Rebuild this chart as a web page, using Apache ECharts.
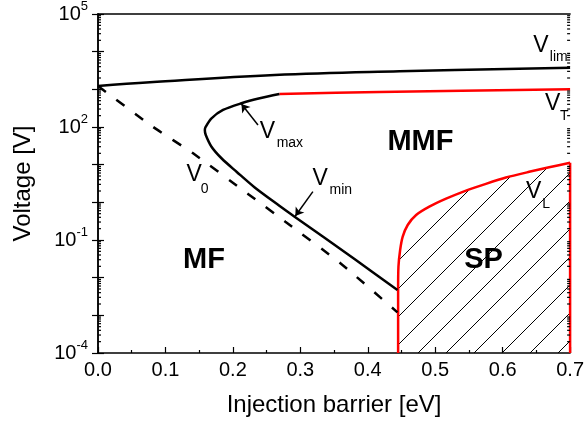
<!DOCTYPE html>
<html><head><meta charset="utf-8">
<script src="https://cdn.jsdelivr.net/npm/echarts@6/dist/echarts.min.js"></script>
<style>html,body{margin:0;padding:0;background:#fff}#c{width:587px;height:425px}</style>
</head><body><div id="c"></div>
<script>
// ---- axis ticks ----
const xTickLabels = ['0.0','0.1','0.2','0.3','0.4','0.5','0.6','0.7'];
const yLabelExps = [-4, -1, 2, 5];
const yMinorTicks = [];
for (let e = -4; e < 5; e++) for (let k = 2; k <= 9; k++) yMinorTicks.push(k * Math.pow(10, e));

// ---- data ----
const vLimX = [0, 0.077, 0.262, 0.447, 0.7];
const vLimY = [1227, 1538, 2404, 3013, 3750];

const vTX = [0.269, 0.417, 0.7];
const vTY = [750, 849, 1000];

const vCurveX = [0.269, 0.2398, 0.2127, 0.1854, 0.1683, 0.1598, 0.1584, 0.1598, 0.1683, 0.1831, 0.2058, 0.2324, 0.2694, 0.2915, 0.3803, 0.444];
const vCurveY = [750, 578, 426, 283, 170, 102, 83.4, 61.4, 30.0, 14.8, 6.40, 2.48, 0.80, 0.416, 0.0313, 0.0047];

const v0X = [0, 0.0818, 0.141, 0.2224, 0.2778, 0.3607, 0.444];
const v0Y = [1227, 100, 20.0, 1.67, 0.306, 0.0231, 0.0012];

// V_L boundary (left vertical + curve), and the right vertical edge of the SP region
const vLX = [0.445, 0.445, 0.4455, 0.448, 0.4518, 0.4592, 0.4717, 0.4913, 0.5161, 0.5457, 0.5752, 0.6048, 0.6393, 0.6689, 0.7];
const vLY = [1e-4, 0.0047, 0.0196, 0.0543, 0.1225, 0.2506, 0.461, 0.766, 1.25, 2.05, 3.10, 4.55, 6.45, 8.51, 11.3];
const spRightX = [0.7, 0.7];
const spRightY = [11.3, 1e-4];

// arrows [fromX, fromY, toX, toY]
const arrowVmax = [0.2372, 113, 0.2127, 408];
const arrowVmin = [0.3186, 1.92, 0.2926, 0.434];

// annotations: text, x, baseline y (data coords), kind
const labelText = ['V','lim','V','T','V','max','V','0','V','min','V','L','MMF','MF','SP'];
const labelX    = [0.6453,0.670,0.6626,0.6852,0.2398,0.2649,0.1313,0.1524,0.3182,0.3434,0.6345,0.6586,0.4292,0.1262,0.5431];
const labelY    = [9060,5420,255,147,45.2,27.7,3.27,1.67,2.60,1.57,1.15,0.653,21.7,0.016,0.016];
const labelKind = ['v','s','v','s','v','s','v','s','v','s','v','s','b','b','b'];

const zip = (a, b) => a.map((v, i) => [v, b[i]]);
const FONT = '"Liberation Sans", Arial, sans-serif';

// hatch pattern
const S = 28;
const cv = document.createElement('canvas');
cv.width = S; cv.height = S;
const cx = cv.getContext('2d');
cx.strokeStyle = '#000'; cx.lineWidth = 1;
[15 - S, 15, 15 + S].forEach(c => { cx.beginPath(); cx.moveTo(-4, c + 4); cx.lineTo(c + 4, -4); cx.stroke(); });

const chart = echarts.init(document.getElementById('c'), null, {renderer: 'canvas'});

const axisLineStyle = {color: '#000', width: 1.5};
const option = {
  animation: false,
  grid: {left: 98, right: 15, top: 14, bottom: 72},
  xAxis: [{
    type: 'value', min: 0, max: 0.7, interval: 0.1,
    name: 'Injection barrier [eV]', nameLocation: 'middle', nameGap: 40,
    nameTextStyle: {fontFamily: FONT, fontSize: 24, color: '#000'},
    axisLine: {show: true, lineStyle: axisLineStyle},
    axisTick: {show: true, inside: true, length: 6, lineStyle: {color: '#000', width: 1.2}},
    minorTick: {show: true, splitNumber: 2, length: 3, lineStyle: {color: '#000', width: 1.2}},
    splitLine: {show: false},
    axisLabel: {fontFamily: FONT, fontSize: 20, color: '#000', margin: 7,
      formatter: v => xTickLabels[Math.round(v * 10)]}
  }, {
    type: 'value', position: 'top', min: 0, max: 0.7,
    axisLine: {show: true, lineStyle: axisLineStyle},
    axisTick: {show: false}, axisLabel: {show: false}, splitLine: {show: false}
  }],
  yAxis: [{
    type: 'log', logBase: 10, min: 1e-4, max: 1e5, interval: 1,
    name: 'Voltage [V]', nameLocation: 'middle', nameGap: 63,
    nameTextStyle: {fontFamily: FONT, fontSize: 24, color: '#000'},
    axisLine: {show: true, lineStyle: axisLineStyle},
    axisTick: {show: true, inside: true, length: 6, lineStyle: {color: '#000', width: 1.2}},
    splitLine: {show: false},
    axisLabel: {
      margin: 10,
      formatter: v => {
        const e = Math.round(Math.log10(v));
        return yLabelExps.includes(e) ? '{b|10}{s|' + e + '}' : '';
      },
      rich: {
        b: {fontFamily: FONT, fontSize: 20, color: '#000', lineHeight: 28},
        s: {fontFamily: FONT, fontSize: 13, color: '#000', lineHeight: 13, verticalAlign: 'top'}
      }
    }
  }, {
    type: 'log', logBase: 10, min: 1e-4, max: 1e5, interval: 1, position: 'right',
    axisLine: {show: true, lineStyle: axisLineStyle},
    axisTick: {show: true, inside: true, length: 6, lineStyle: {color: '#000', width: 1.2}},
    axisLabel: {show: false}, splitLine: {show: false}
  }],
  series: [
    {
      type: 'line', name: 'VL', data: zip(vLX, vLY), symbol: 'none', smooth: 0.25,
      lineStyle: {color: '#ff0000', width: 2.5},
      areaStyle: {origin: 'start', color: {image: cv, repeat: 'repeat'}, opacity: 1},
      z: 2
    },
    {
      type: 'line', name: 'SPright', data: zip(spRightX, spRightY), symbol: 'none',
      lineStyle: {color: '#ff0000', width: 2.5}, z: 2
    },
    {
      type: 'line', name: 'Vlim', data: zip(vLimX, vLimY), symbol: 'none', smooth: 0.4,
      lineStyle: {color: '#000', width: 2.5}, z: 3
    },
    {
      type: 'line', name: 'VT', data: zip(vTX, vTY), symbol: 'none', smooth: 0.3,
      lineStyle: {color: '#ff0000', width: 2.5}, z: 3
    },
    {
      type: 'line', name: 'V0', data: zip(v0X, v0Y), symbol: 'none', smooth: 0.2,
      lineStyle: {color: '#000', width: 2.5, type: [10, 13]}, z: 3
    },
    {
      type: 'line', name: 'Vcurve', data: zip(vCurveX, vCurveY), symbol: 'none', smooth: 0.3,
      lineStyle: {color: '#000', width: 2.5}, z: 4,
      markLine: {
        silent: true, symbol: ['none', 'arrow'], symbolSize: 8, animation: false,
        label: {show: false},
        lineStyle: {color: '#000', width: 1.5, type: 'solid'},
        data: [
          [{coord: [arrowVmax[0], arrowVmax[1]]}, {coord: [arrowVmax[2], arrowVmax[3]]}],
          [{coord: [arrowVmin[0], arrowVmin[1]]}, {coord: [arrowVmin[2], arrowVmin[3]]}]
        ]
      }
    },
    {
      type: 'custom', name: 'minorTicks', data: yMinorTicks.map(v => [0, v]), silent: true, z: 5,
      renderItem: (params, api) => {
        const v = api.value(1);
        const pl = api.coord([0, v]);
        const pr = api.coord([0.7, v]);
        const st = {stroke: '#000', lineWidth: 1.2};
        return {type: 'group', children: [
          {type: 'line', shape: {x1: pl[0], y1: pl[1], x2: pl[0] + 3, y2: pl[1]}, style: st},
          {type: 'line', shape: {x1: pr[0], y1: pr[1], x2: pr[0] - 3, y2: pr[1]}, style: st}
        ]};
      }
    }
  ]
};
chart.setOption(option);

const sizes = {v: 23, s: 14, b: 29};
const graphics = labelText.map((t, i) => {
  const p = chart.convertToPixel({xAxisIndex: 0, yAxisIndex: 0}, [labelX[i], labelY[i]]);
  const fs = sizes[labelKind[i]];
  return {
    type: 'text', x: p[0], y: p[1] - 0.3465 * fs, z: 10,
    style: {text: t, fontFamily: FONT, fontSize: fs, fontWeight: labelKind[i] === 'b' ? 'bold' : 'normal',
      fill: '#000', align: 'left', verticalAlign: 'middle'}
  };
});
chart.setOption({graphic: graphics});
</script>
</body></html>
